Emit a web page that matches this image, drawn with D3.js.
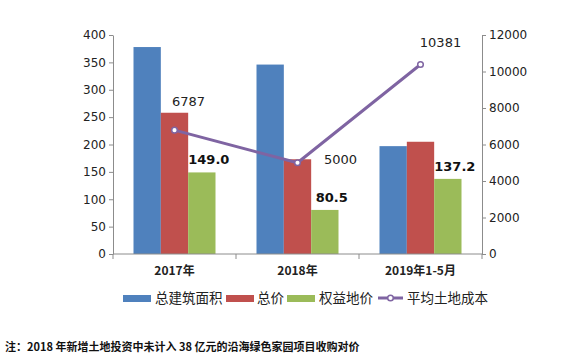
<!DOCTYPE html>
<html><head><meta charset="utf-8">
<script src="https://cdn.jsdelivr.net/npm/d3@7"></script>
<style>
html,body{margin:0;padding:0;background:#fff;}
svg{display:block;}
text{font-family:"Noto Sans CJK SC","DejaVu Sans",sans-serif;}
</style></head>
<body><svg id="c" width="576" height="353"></svg>
<script>
const categories = ["2017年", "2018年", "2019年1-5月"];
const seriesNames = ["总建筑面积", "总价", "权益地价"];
const areaValues = [378, 346, 197];
const totalValues = [258, 173, 205];
const equityValues = [149.0, 80.5, 137.2];
const costValues = [6787, 5000, 10381];
const lineName = "平均土地成本";
const leftTicks = [0, 50, 100, 150, 200, 250, 300, 350, 400];
const rightTicks = [0, 2000, 4000, 6000, 8000, 10000, 12000];
const colors = ["#4F81BD", "#C0504D", "#9BBB59"];
const lineColor = "#7F64A2";
const note = "注：2018 年新增土地投资中未计入 38 亿元的沿海绿色家园项目收购对价";

const svg = d3.select("#c");
const L = 113, R = 482, T = 35, B = 254;
const x = d3.scaleBand().domain(categories).range([L, R]);
const xs = d3.scaleBand().domain(seriesNames).range([0, 82]);
const groupOff = (x.bandwidth() - 82) / 2;
const yL = d3.scaleLinear().domain([0, 400]).range([B, T]);
const yR = d3.scaleLinear().domain([0, 12000]).range([B, T]);
const seriesVals = [areaValues, totalValues, equityValues];

// bars
seriesNames.forEach((s, si) => {
  svg.append("g").selectAll("rect").data(categories).join("rect")
    .attr("x", c => x(c) + groupOff + xs(s))
    .attr("width", xs.bandwidth())
    .attr("y", (c, i) => yL(seriesVals[si][i]))
    .attr("height", (c, i) => B - yL(seriesVals[si][i]))
    .attr("fill", colors[si]);
});

// axes
const axStyle = g => {
  g.selectAll("path,line").attr("stroke", "#8c8c8c");
  g.selectAll("text").attr("fill", "#222").style("font-family", "'DejaVu Sans',sans-serif").style("font-size", "12px");
};
svg.append("g").attr("transform", `translate(${L},0)`)
  .call(d3.axisLeft(yL).tickValues(leftTicks).tickSize(4).tickSizeOuter(0).tickPadding(3))
  .call(axStyle);
svg.append("g").attr("transform", `translate(${R},0)`)
  .call(d3.axisRight(yR).tickValues(rightTicks).tickFormat(d3.format("d")).tickSize(4).tickSizeOuter(0).tickPadding(3))
  .call(axStyle);
// x axis
const xa = svg.append("g");
xa.append("line").attr("x1", L).attr("x2", R).attr("y1", B).attr("y2", B).attr("stroke", "#8c8c8c");
xa.selectAll("line.t").data(categories.concat(["end"])).join("line").attr("class", "t")
  .attr("x1", (c, i) => i < categories.length ? x(c) : R)
  .attr("x2", (c, i) => i < categories.length ? x(c) : R)
  .attr("y1", B).attr("y2", B + 5).attr("stroke", "#8c8c8c");
xa.selectAll("text").data(categories).join("text")
  .attr("x", c => x(c) + x.bandwidth() / 2).attr("y", 275)
  .attr("text-anchor", "middle").attr("font-weight", "bold").attr("font-size", "12px").attr("fill", "#222")
  .text(d => d);

// line
const cx = c => x(c) + x.bandwidth() / 2;
svg.append("path").datum(categories)
  .attr("d", d3.line().x(c => cx(c)).y((c, i) => yR(costValues[i])))
  .attr("fill", "none").attr("stroke", lineColor).attr("stroke-width", 3);
svg.append("g").selectAll("circle").data(categories).join("circle")
  .attr("cx", cx).attr("cy", (c, i) => yR(costValues[i])).attr("r", 2.8)
  .attr("fill", "#fff").attr("stroke", lineColor).attr("stroke-width", 1.5);

// line labels
const lineLabelOff = [[14, -24], [43, 1], [20, -18]];
svg.append("g").selectAll("text").data(categories).join("text")
  .attr("x", (c, i) => cx(c) + lineLabelOff[i][0])
  .attr("y", (c, i) => yR(costValues[i]) + lineLabelOff[i][1])
  .attr("text-anchor", "middle").attr("font-size", "13px").attr("fill", "#222")
  .style("font-family", "'DejaVu Sans',sans-serif")
  .text((c, i) => costValues[i]);

// equity labels
svg.append("g").selectAll("text").data(categories).join("text")
  .attr("x", c => x(c) + groupOff + xs("权益地价") + xs.bandwidth() / 2 + 7)
  .attr("y", (c, i) => yL(equityValues[i]) - 8)
  .attr("text-anchor", "middle").attr("font-size", "13px").attr("font-weight", "bold").attr("fill", "#111")
  .style("font-family", "'DejaVu Sans',sans-serif")
  .text((c, i) => equityValues[i].toFixed(1));

// legend
const leg = svg.append("g");
const legItems = [
  {name: seriesNames[0], sx: 123, tx: 155, type: "bar", c: colors[0]},
  {name: seriesNames[1], sx: 226, tx: 257, type: "bar", c: colors[1]},
  {name: seriesNames[2], sx: 287, tx: 319, type: "bar", c: colors[2]},
  {name: lineName, sx: 378, tx: 407, type: "line", c: lineColor}
];
const ly = 298;
legItems.forEach(it => {
  if (it.type === "bar") {
    leg.append("rect").attr("x", it.sx).attr("y", ly - 3).attr("width", 28).attr("height", 7).attr("fill", it.c);
  } else {
    leg.append("line").attr("x1", it.sx).attr("x2", it.sx + 25).attr("y1", ly).attr("y2", ly).attr("stroke", it.c).attr("stroke-width", 3);
    leg.append("circle").attr("cx", it.sx + 12.5).attr("cy", ly).attr("r", 2.8).attr("fill", "#fff").attr("stroke", it.c).attr("stroke-width", 1.5);
  }
  leg.append("text").attr("x", it.tx).attr("y", ly + 5).attr("font-size", "13.5px").attr("fill", "#222").text(it.name);
});

// note
svg.append("text").attr("x", 5).attr("y", 351).attr("font-size", "11px").attr("font-weight", "bold").attr("fill", "#111").text(note);
</script>
</body></html>
